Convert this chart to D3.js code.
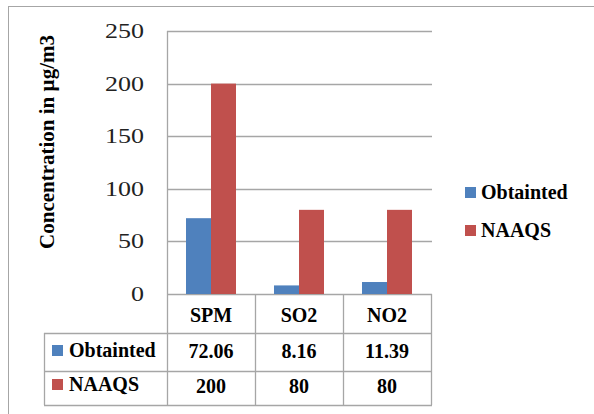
<!DOCTYPE html>
<html>
<head>
<meta charset="utf-8">
<script src="https://cdn.jsdelivr.net/npm/d3@7"></script>
<style>
  body { margin: 0; background: #fff; }
  text { font-family: "Liberation Serif", "Times New Roman", serif; }
  .bold { font-weight: bold; font-size: 20px; fill: #000; }
</style>
</head>
<body>
<div id="chart"></div>
<script>
// data
const categories = ["SPM", "SO2", "NO2"];
const seriesNames = ["Obtainted", "NAAQS"];
const obtained = [72.06, 8.16, 11.39];
const naaqs = [200, 80, 80];
const obtainedLabels = ["72.06", "8.16", "11.39"];
const naaqsLabels = ["200", "80", "80"];
const yTicks = [0, 50, 100, 150, 200, 250];

const colors = { "Obtainted": "#4f81bd", "NAAQS": "#c0504d" };
const gridColor = "#a6a6a6";

const width = 594, height = 414;
const svg = d3.select("#chart").append("svg")
    .attr("width", width)
    .attr("height", height);

// outer chart border
svg.append("rect")
    .attr("x", 8.5).attr("y", 6.5)
    .attr("width", 620).attr("height", 440)
    .attr("fill", "none")
    .attr("stroke", "#a6a6a6");

const plot = { left: 167, right: 431, top: 31, bottom: 294 };
const rows = [294, 333, 371, 405];
const tableLeft = 44;

const y = d3.scaleLinear().domain([0, 250]).range([plot.bottom, plot.top]);
const x = d3.scaleBand().domain(categories).range([plot.left, plot.right]);
const xs = d3.scaleBand().domain(seriesNames)
    .range([0, x.bandwidth()])
    .paddingInner(0).paddingOuter(0.76);

// gridlines
svg.append("g").selectAll("line")
    .data(yTicks)
    .enter().append("line")
    .attr("x1", plot.left).attr("x2", plot.right + 1)
    .attr("y1", d => Math.round(y(d)) + 0.5)
    .attr("y2", d => Math.round(y(d)) + 0.5)
    .attr("stroke", gridColor).attr("stroke-width", 1.3);

// y tick labels (thin, wide digits)
svg.append("g").selectAll("text")
    .data(yTicks)
    .enter().append("text")
    .attr("transform", d => `translate(144, ${y(d)}) scale(1.3,1)`)
    .attr("dy", "0.35em")
    .attr("text-anchor", "end")
    .style("font-size", "20px")
    .style("fill", "#222")
    .text(d => d);

// y axis title
svg.append("text")
    .attr("class", "bold")
    .attr("transform", `translate(54, ${142}) rotate(-90)`)
    .attr("text-anchor", "middle")
    .style("font-size", "21px")
    .text("Concentration in µg/m3");

// bars
const seriesData = [obtained, naaqs];
const bars = svg.append("g");
seriesNames.forEach((s, si) => {
    bars.selectAll(".bar" + si)
        .data(categories)
        .enter().append("rect")
        .attr("x", d => x(d) + xs(s))
        .attr("y", (d, i) => y(seriesData[si][i]))
        .attr("width", xs.bandwidth())
        .attr("height", (d, i) => plot.bottom - y(seriesData[si][i]))
        .attr("fill", colors[s]);
});

// data table lines
const tbl = svg.append("g").attr("stroke", gridColor).attr("stroke-width", 1.3);
tbl.append("line")
    .attr("x1", plot.left + 0.5).attr("x2", plot.left + 0.5)
    .attr("y1", plot.top).attr("y2", rows[3]);
categories.forEach(c => {
    tbl.append("line")
        .attr("x1", x(c) + x.bandwidth() + 0.5).attr("x2", x(c) + x.bandwidth() + 0.5)
        .attr("y1", rows[0]).attr("y2", rows[3]);
});
tbl.append("line")
    .attr("x1", tableLeft + 0.5).attr("x2", tableLeft + 0.5)
    .attr("y1", rows[1]).attr("y2", rows[3]);
rows.slice(1).forEach(r => {
    tbl.append("line")
        .attr("x1", tableLeft).attr("x2", plot.right + 1)
        .attr("y1", r + 0.5).attr("y2", r + 0.5);
});

// table text
svg.append("g").selectAll("text")
    .data(categories)
    .enter().append("text")
    .attr("class", "bold")
    .attr("x", d => x(d) + x.bandwidth() / 2)
    .attr("y", 322)
    .attr("text-anchor", "middle")
    .text(d => d);

const rowLabels = [obtainedLabels, naaqsLabels];
const rowBase = [358, 393];
rowLabels.forEach((labels, ri) => {
    svg.append("g").selectAll("text")
        .data(categories)
        .enter().append("text")
        .attr("class", "bold")
        .attr("x", d => x(d) + x.bandwidth() / 2)
        .attr("y", rowBase[ri])
        .attr("text-anchor", "middle")
        .text((d, i) => labels[i]);
});

// legend keys inside the table
const tableKeys = svg.append("g");
seriesNames.forEach((s, i) => {
    tableKeys.append("rect")
        .attr("x", 52).attr("y", [345, 379][i])
        .attr("width", 11).attr("height", 11)
        .attr("fill", colors[s]);
    tableKeys.append("text")
        .attr("class", "bold")
        .attr("x", 69).attr("y", [357, 391][i])
        .text(s);
});

// legend on the right
const legend = svg.append("g");
seriesNames.forEach((s, i) => {
    legend.append("rect")
        .attr("x", 465).attr("y", [187, 225][i])
        .attr("width", 11).attr("height", 11)
        .attr("fill", colors[s]);
    legend.append("text")
        .attr("class", "bold")
        .attr("x", 481).attr("y", [199, 237][i])
        .text(s);
});
</script>
</body>
</html>
